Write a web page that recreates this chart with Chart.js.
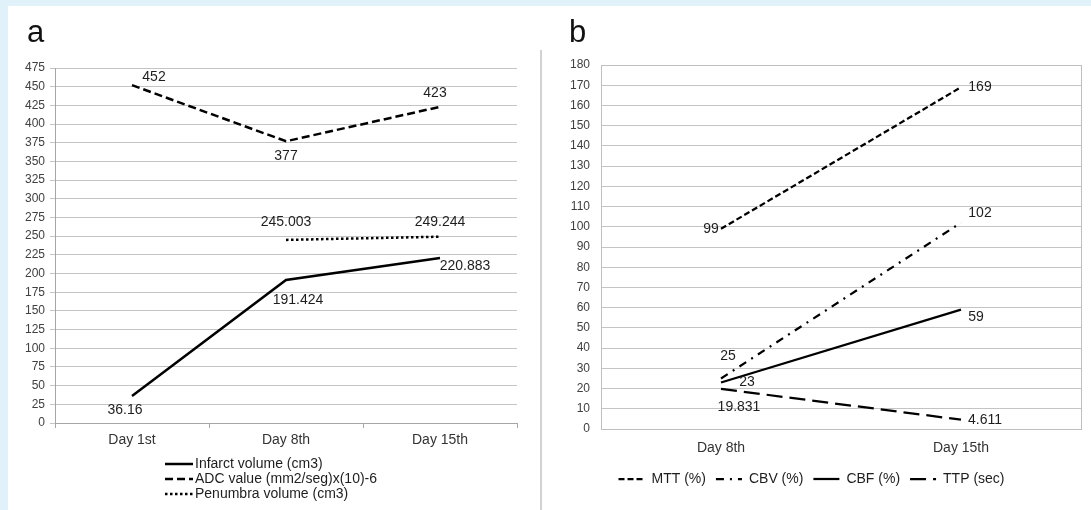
<!DOCTYPE html>
<html>
<head>
<meta charset="utf-8">
<script src="https://cdn.jsdelivr.net/npm/chart.js@4/dist/chart.umd.min.js"></script>
<style>
  html, body { margin: 0; padding: 0; }
  body { width: 1091px; height: 510px; background: #e1f1fa; position: relative; overflow: hidden; }
  #sheet { position: absolute; left: 8px; top: 6px; right: 0; bottom: 0; background: #fff; }
  #divider { position: absolute; left: 540px; top: 50px; width: 2px; height: 460px; background: #d2d2d2; }
  #chartA { position: absolute; left: 8px; top: 6px; }
  #chartB { position: absolute; left: 542px; top: 6px; }
</style>
</head>
<body>
<div id="sheet"></div>
<div id="divider"></div>
<canvas id="chartA" width="533" height="504"></canvas>
<canvas id="chartB" width="549" height="504"></canvas>
<script>
// panel a
const daysA = ['Day 1st', 'Day 8th', 'Day 15th'];
const infarctVolume = [36.16, 191.424, 220.883];
const adcValue = [452, 377, 423];
const penumbraVolume = [null, 245.003, 249.244];
const yMaxA = 475, yStepA = 25;

// panel b
const daysB = ['Day 8th', 'Day 15th'];
const mtt = [99, 169];
const cbv = [25, 102];
const cbf = [23, 59];
const ttp = [19.831, 4.611];
const yMaxB = 180, yStepB = 10;

// where each value label sits, relative to its point
const labelOffsetsA = [
    [[-7, 14], [12, 20], [25, 8]],
    [[22, -8], [0, 15], [-5, -14]],
    [null, [0, -18], [0, -15]]
];
const labelOffsetsB = [
    [[-10, 0], [19, 0]],
    [[7, -22], [19, -10]],
    [[26, 0], [15, 7]],
    [[18, 18], [24, 0]]
];

const FONT = '"Liberation Sans", Arial, sans-serif';
Chart.defaults.font.family = FONT;
Chart.defaults.color = '#333';

const valueLabels = {
    id: 'valueLabels',
    afterDatasetsDraw(chart, args, opts) {
        const ctx = chart.ctx;
        ctx.save();
        ctx.font = '14px ' + FONT;
        ctx.fillStyle = '#1e1e1e';
        ctx.textAlign = 'center';
        ctx.textBaseline = 'middle';
        chart.data.datasets.forEach((ds, i) => {
            chart.getDatasetMeta(i).data.forEach((pt, j) => {
                const off = opts.offsets[i][j];
                if (ds.data[j] === null || !off) return;
                ctx.fillText(String(ds.data[j]), pt.x + off[0], pt.y + off[1]);
            });
        });
        ctx.restore();
    }
};

const panelLetter = {
    id: 'panelLetter',
    afterDraw(chart, args, opts) {
        const ctx = chart.ctx;
        ctx.save();
        ctx.font = '31px ' + FONT;
        ctx.fillStyle = '#111';
        ctx.textBaseline = 'alphabetic';
        ctx.fillText(opts.text, opts.x, opts.y);
        ctx.restore();
    }
};

// legend of panel a, one item per row
const stackedLegend = {
    id: 'stackedLegend',
    afterDraw(chart, args, opts) {
        const ctx = chart.ctx;
        const x0 = chart.chartArea.left + opts.left;
        ctx.save();
        ctx.font = '14px ' + FONT;
        ctx.textBaseline = 'middle';
        ctx.fillStyle = '#1e1e1e';
        chart.data.datasets.forEach((ds, i) => {
            const y = chart.chartArea.bottom + opts.top + i * opts.rowHeight;
            ctx.beginPath();
            ctx.setLineDash(ds.borderDash || []);
            ctx.lineWidth = ds.borderWidth;
            ctx.strokeStyle = ds.borderColor;
            ctx.moveTo(x0, y);
            ctx.lineTo(x0 + 28, y);
            ctx.stroke();
            ctx.setLineDash([]);
            ctx.fillText(ds.label, x0 + 30, y);
        });
        ctx.restore();
    }
};

const plotFrame = {
    id: 'plotFrame',
    beforeDatasetsDraw(chart) {
        const a = chart.chartArea;
        const ctx = chart.ctx;
        ctx.save();
        ctx.strokeStyle = '#bfbfbf';
        ctx.lineWidth = 1;
        ctx.strokeRect(a.left + 0.5, a.top + 0.5, a.right - a.left, a.bottom - a.top);
        ctx.restore();
    }
};

new Chart(document.getElementById('chartA'), {
    type: 'line',
    data: {
        labels: daysA,
        datasets: [
            { label: 'Infarct volume (cm3)', data: infarctVolume, borderColor: '#000', borderWidth: 2.5, borderDash: [] },
            { label: 'ADC value (mm2/seg)x(10)-6', data: adcValue, borderColor: '#000', borderWidth: 2.5, borderDash: [8, 4] },
            { label: 'Penumbra volume (cm3)', data: penumbraVolume, borderColor: '#000', borderWidth: 2.5, borderDash: [2.5, 2.5] }
        ]
    },
    options: {
        responsive: false,
        animation: false,
        layout: { padding: { left: 0, right: 24, top: 62, bottom: 57 } },
        elements: { point: { radius: 0 }, line: { tension: 0, fill: false } },
        scales: {
            x: {
                offset: true,
                grid: { offset: true, drawOnChartArea: false, tickLength: 5, color: '#a6a6a6' },
                border: { color: '#a6a6a6' },
                ticks: { padding: 4, color: '#333', font: { size: 14 } },
                afterFit: s => { s.height = 30; }
            },
            y: {
                min: 0,
                max: yMaxA,
                ticks: { stepSize: yStepA, autoSkip: false, padding: 5, color: '#404040', font: { size: 12 } },
                grid: { color: '#c4c4c4', tickLength: 5 },
                border: { color: '#a6a6a6' },
                afterFit: s => { s.width = 47; }
            }
        },
        plugins: {
            legend: { display: false },
            tooltip: { enabled: false },
            valueLabels: { offsets: labelOffsetsA },
            panelLetter: { text: 'a', x: 19, y: 36 },
            stackedLegend: { left: 110, top: 41, rowHeight: 15 }
        }
    },
    plugins: [valueLabels, panelLetter, stackedLegend]
});

new Chart(document.getElementById('chartB'), {
    type: 'line',
    data: {
        labels: daysB,
        datasets: [
            { label: 'MTT (%)', data: mtt, borderColor: '#000', borderWidth: 2.25, borderDash: [6, 3] },
            { label: 'CBV (%)', data: cbv, borderColor: '#000', borderWidth: 2.25, borderDash: [8, 6, 2, 6] },
            { label: 'CBF (%)', data: cbf, borderColor: '#000', borderWidth: 2.25, borderDash: [] },
            { label: 'TTP (sec)', data: ttp, borderColor: '#000', borderWidth: 2.25, borderDash: [16, 7] }
        ]
    },
    options: {
        responsive: false,
        animation: false,
        layout: { padding: { left: 0, right: 10, top: 59, bottom: 14 } },
        elements: { point: { radius: 0 }, line: { tension: 0, fill: false } },
        scales: {
            x: {
                offset: true,
                grid: { display: false },
                border: { color: '#bfbfbf' },
                ticks: { padding: 3, color: '#333', font: { size: 14 } },
                afterFit: s => { s.height = 33; }
            },
            y: {
                min: 0,
                max: yMaxB,
                ticks: { stepSize: yStepB, autoSkip: false, padding: 11, color: '#404040', font: { size: 12 } },
                grid: { color: '#c4c4c4', drawTicks: false },
                border: { color: '#bfbfbf' },
                afterFit: s => { s.width = 59; }
            }
        },
        plugins: {
            legend: {
                position: 'bottom',
                labels: {
                    usePointStyle: true,
                    pointStyle: 'line',
                    pointStyleWidth: 26,
                    padding: 10,
                    color: '#1e1e1e',
                    font: { size: 14 },
                    // line samples keep the dash pattern of their series
                    generateLabels: function (chart) {
                        return Chart.defaults.plugins.legend.labels.generateLabels(chart).map(item => {
                            const ds = chart.data.datasets[item.datasetIndex];
                            item.lineDash = ds.borderDash;
                            item.lineWidth = ds.borderWidth;
                            item.strokeStyle = ds.borderColor;
                            item.pointStyle = 'line';
                            return item;
                        });
                    }
                }
            },
            tooltip: { enabled: false },
            valueLabels: { offsets: labelOffsetsB },
            panelLetter: { text: 'b', x: 27, y: 36 }
        }
    },
    plugins: [plotFrame, valueLabels, panelLetter]
});
</script>
</body>
</html>
